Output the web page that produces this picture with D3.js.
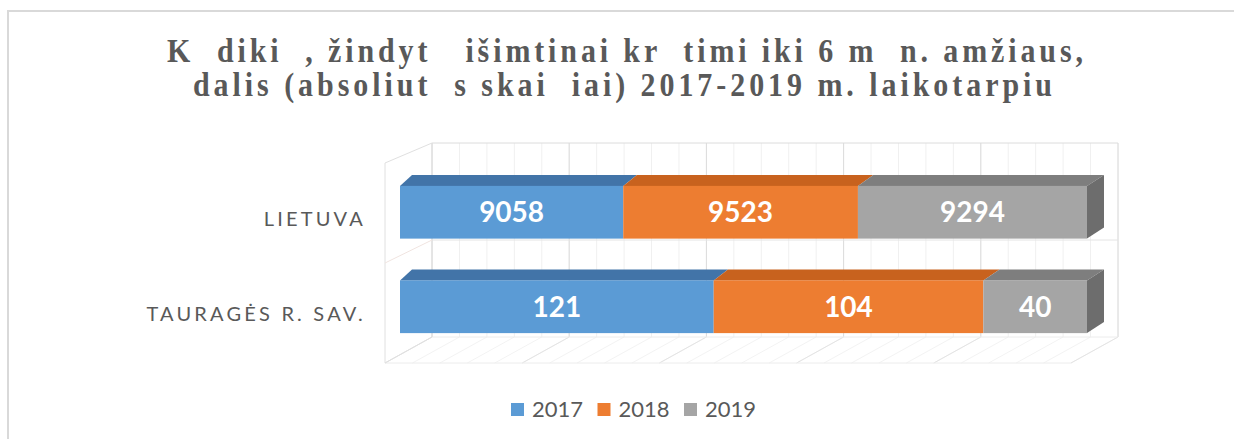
<!DOCTYPE html>
<meta charset="utf-8">
<title>Kūdikiai</title>
<style>
body{ margin:0; background:white; }
</style>
<body>
<script src="https://d3js.org/d3.v7.min.js"></script>
<script>

var categories = ["LIETUVA", "TAURAGĖS R. SAV."];
var years = ["2017", "2018", "2019"];
var v2017 = [9058, 121];
var v2018 = [9523, 104];
var v2019 = [9294, 40];
var titleLines = [
	"K  diki  , žindyt   išimtinai kr  timi iki 6 m  n. amžiaus,",
	"dalis (absoliut  s skai  iai) 2017-2019 m. laikotarpiu"
];
var gridTicks = d3.range(0, 1.0001, 0.2);
var minorTicks = d3.range(0, 1.0001, 0.04);

var frontColor = {"2017": "#5b9bd5", "2018": "#ed7d31", "2019": "#a5a5a5"};
var topColor = {"2017": "#4274a8", "2018": "#c8621e", "2019": "#7e7e7e"};
var sideColor = {"2017": "#3a679a", "2018": "#b4561a", "2019": "#6d6d6d"};

var width = 1234, height = 439;

var svg = d3.select("body").append("svg")
	.attr("width", width)
	.attr("height", height);

// chart frame
svg.append("rect")
	.attr("x", 8).attr("y", 11)
	.attr("width", 1260).attr("height", 460)
	.attr("fill", "none")
	.attr("stroke", "#d9d9d9")
	.attr("stroke-width", 2);

// title (condensed bold serif, glyphs stretched vertically)
var title = svg.append("g").attr("font-family", "'Liberation Serif', serif")
	.attr("font-weight", "bold")
	.attr("font-size", 30)
	.attr("fill", "#595959");
var titlePos = [{x: 167, y: 62, w: 916}, {x: 193, y: 96, w: 859}];
title.selectAll("text")
	.data(titleLines)
	.enter().append("text")
	.style("white-space", "pre")
	.attr("transform", function(d, i){ return "translate(" + titlePos[i].x + "," + titlePos[i].y + ") scale(1,1.12)"; })
	.attr("textLength", function(d, i){ return titlePos[i].w; })
	.attr("lengthAdjust", "spacing")
	.text(function(d){ return d; });

// scales
var x = d3.scaleLinear().domain([0, 1]).range([400, 1087]);
var xBack = d3.scaleLinear().domain([0, 1]).range([432, 1118]);
var depthX = d3.scaleLinear().domain([400, 1087]).range([12, 17]);
var depthY = -11;
var y = d3.scaleBand().domain(categories).range([165, 354]).paddingInner(0.442).paddingOuter(0.221);

var wallTop = 143, wallBottom = 337;
var floorDx = -47, floorDy = 26;

var grid = svg.append("g").attr("fill", "none");

// minor grid on back wall
grid.selectAll("line.minor")
	.data(minorTicks)
	.enter().append("line")
	.attr("class", "minor")
	.attr("x1", function(d){ return xBack(d); })
	.attr("x2", function(d){ return xBack(d); })
	.attr("y1", wallTop).attr("y2", wallBottom)
	.attr("stroke", "#f0f0f0");

// minor floor lines
grid.selectAll("line.fminor")
	.data(minorTicks)
	.enter().append("line")
	.attr("class", "fminor")
	.attr("x1", function(d){ return xBack(d); })
	.attr("y1", wallBottom)
	.attr("x2", function(d){ return xBack(d) + floorDx; })
	.attr("y2", wallBottom + floorDy)
	.attr("stroke", "#f3f3f3");

// major grid
grid.selectAll("line.major")
	.data(gridTicks)
	.enter().append("line")
	.attr("class", "major")
	.attr("x1", function(d){ return xBack(d); })
	.attr("x2", function(d){ return xBack(d); })
	.attr("y1", wallTop).attr("y2", wallBottom)
	.attr("stroke", "#dcdcdc");

grid.selectAll("line.floor")
	.data(gridTicks)
	.enter().append("line")
	.attr("class", "floor")
	.attr("x1", function(d){ return xBack(d); })
	.attr("y1", wallBottom)
	.attr("x2", function(d){ return xBack(d) + floorDx; })
	.attr("y2", wallBottom + floorDy)
	.attr("stroke", "#e4e4e4");

// back wall top, middle, and floor edges
var wallMid = (wallTop + wallBottom) / 2;
grid.append("line").attr("x1", xBack(0)).attr("x2", xBack(1)).attr("y1", wallTop).attr("y2", wallTop).attr("stroke", "#dcdcdc");
grid.append("line").attr("x1", xBack(0)).attr("x2", xBack(1)).attr("y1", wallMid).attr("y2", wallMid).attr("stroke", "#e4e4e4");
grid.append("line").attr("x1", xBack(0)).attr("x2", xBack(1)).attr("y1", wallBottom).attr("y2", wallBottom).attr("stroke", "#ececec");
grid.append("line").attr("x1", xBack(0) + floorDx).attr("x2", xBack(1) + floorDx).attr("y1", wallBottom + floorDy).attr("y2", wallBottom + floorDy).attr("stroke", "#ececec");

// left wall
var lw = xBack(0) + floorDx;
grid.append("path")
	.attr("d", d3.line()([[lw, wallTop + 20], [xBack(0), wallTop], [xBack(0), wallBottom], [lw, wallBottom + floorDy], [lw, wallTop + 20]]))
	.attr("stroke", "#e0e0e0");
grid.append("line")
	.attr("x1", lw).attr("y1", wallMid + 23)
	.attr("x2", xBack(0)).attr("y2", wallMid)
	.attr("stroke", "#f0e4e0");

// stacked data
var rows = categories.map(function(c, i){
	return {cat: c, "2017": v2017[i], "2018": v2018[i], "2019": v2019[i]};
});
var stack = d3.stack().keys(years).offset(d3.stackOffsetExpand)(rows);

var bars = svg.append("g");

categories.forEach(function(cat, ci){
	var y0 = y(cat), bh = y.bandwidth();
	var segs = stack.map(function(s){
		return {key: s.key, a: s[ci][0], b: s[ci][1], value: s[ci].data[s.key]};
	});
	// top faces
	bars.selectAll("path.top-" + ci)
		.data(segs)
		.enter().append("path")
		.attr("class", "top-" + ci)
		.attr("fill", function(d){ return topColor[d.key]; })
		.attr("d", function(d){
			var xa = x(d.a), xb = x(d.b);
			return d3.line()([[xa, y0], [xb, y0], [xb + depthX(xb), y0 + depthY], [xa + depthX(xa), y0 + depthY]]) + "Z";
		});
	// side face of the last segment
	var last = segs[segs.length - 1];
	var xr = x(last.b), dr = depthX(xr);
	bars.append("path")
		.attr("fill", sideColor[last.key])
		.attr("d", d3.line()([[xr, y0], [xr + dr, y0 + depthY], [xr + dr, y0 + bh + depthY], [xr, y0 + bh]]) + "Z");
	// front faces
	bars.selectAll("rect.front-" + ci)
		.data(segs)
		.enter().append("rect")
		.attr("class", "front-" + ci)
		.attr("x", function(d){ return x(d.a); })
		.attr("y", y0)
		.attr("width", function(d){ return x(d.b) - x(d.a); })
		.attr("height", bh)
		.attr("fill", function(d){ return frontColor[d.key]; });
	// labels
	bars.selectAll("text.lab-" + ci)
		.data(segs)
		.enter().append("text")
		.attr("class", "lab-" + ci)
		.attr("x", function(d){ return (x(d.a) + x(d.b)) / 2; })
		.attr("y", y0 + bh / 2)
		.attr("dy", "0.36em")
		.attr("text-anchor", "middle")
		.attr("font-family", "Lato, sans-serif")
		.attr("font-weight", "bold")
		.attr("font-size", 28)
		.attr("fill", "white")
		.text(function(d){ return d.value; });
});

// category axis
svg.append("g").selectAll("text")
	.data(categories)
	.enter().append("text")
	.attr("x", 366)
	.attr("y", function(d){ return y(d) + y.bandwidth() / 2 + 14; })
	.attr("text-anchor", "end")
	.attr("font-family", "Lato, sans-serif")
	.attr("font-size", 20)
	.attr("letter-spacing", 3.2)
	.attr("fill", "#595959")
	.text(function(d){ return d; });

// legend
var legendX = d3.scalePoint().domain(years).range([511, 684]);
var legend = svg.append("g").selectAll("g")
	.data(years)
	.enter().append("g")
	.attr("transform", function(d){ return "translate(" + legendX(d) + ",403)"; });
legend.append("rect")
	.attr("width", 13).attr("height", 13)
	.attr("fill", function(d){ return frontColor[d]; });
legend.append("text")
	.attr("x", 21).attr("y", 14)
	.attr("font-family", "Lato, sans-serif")
	.attr("font-size", 22)
	.attr("fill", "#595959")
	.text(function(d){ return d; });

</script>
</body>
